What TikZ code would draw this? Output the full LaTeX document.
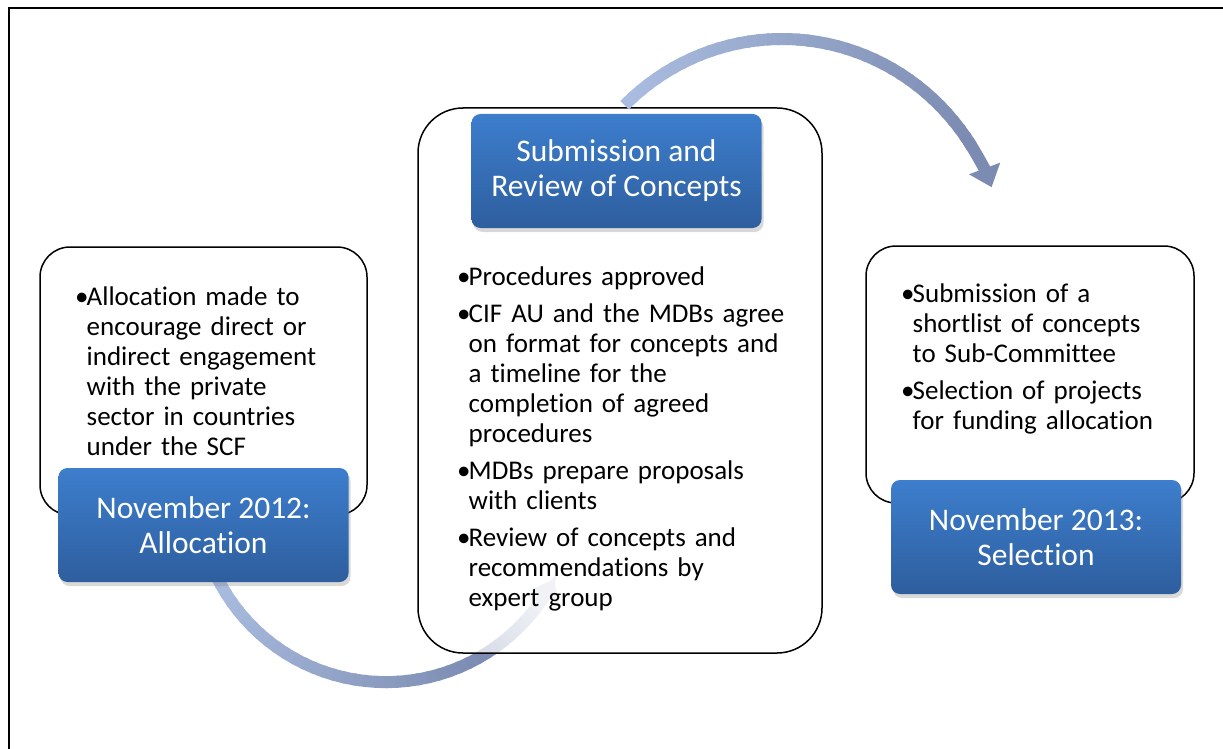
\documentclass[tikz,border=0pt]{standalone}
\usepackage{fontspec}
\setmainfont{Carlito}[Ligatures=NoCommon]
\usetikzlibrary{arrows.meta,shadows}
\definecolor{bluetop}{RGB}{61,126,205}
\definecolor{bluebot}{RGB}{46,94,158}
\definecolor{arcL}{RGB}{170,189,224}
\definecolor{arcD}{RGB}{124,139,177}
\newcommand{\bul}{\hangindent=11.5pt\hangafter=1\noindent\makebox[11.5pt][l]{\textbullet}}
\newcommand{\nextbul}{\par\vspace{7pt}\bul}
\newcommand{\nl}{\newline}
\begin{document}
\begin{tikzpicture}[x=1pt,y=-1pt,
  whitebox/.style={draw=black, line width=1.5pt, rounded corners=30pt, fill=white, inner sep=0pt},
  bluebox/.style={rounded corners=9pt, top color=bluetop, bottom color=bluebot,
    drop shadow={opacity=0.3, shadow xshift=2pt, shadow yshift=-4pt},
    minimum width=290pt, minimum height=114pt, inner sep=0pt,
    text=white, font=\fontsize{31.5}{35}\selectfont, align=center},
  bullettext/.style={font=\fontsize{27}{30}\selectfont, text width=380pt,
    anchor=base west, inner sep=0pt},
  arcseg/.style={line width=12pt}
]
\useasboundingbox (0,0) rectangle (1223,749);
\draw[line width=2pt] (1223,8) -- (9,8) -- (9,749);

% bottom arc (behind the middle box)
\coordinate (bc) at (386,493.5);
\foreach \i in {0,...,29}{
  \pgfmathsetmacro\a{155-\i*97/30}
  \pgfmathsetmacro\b{155-(\i+1.3)*97/30}
  \pgfmathsetmacro\m{100*\i/29}
  \draw[arcseg, color=arcD!\m!arcL] (bc) ++(\a:188.6) arc[start angle=\a, end angle=\b, radius=188.6];
}
\foreach \i in {0,...,9}{
  \pgfmathsetmacro\a{58-\i*22/10}
  \pgfmathsetmacro\b{58-(\i+1.3)*22/10}
  \pgfmathsetmacro\m{100-6*\i}
  \draw[arcseg, color=arcD!\m!white] (bc) ++(\a:188.6) arc[start angle=\a, end angle=\b, radius=188.6];
}
\draw[arcseg, color=arcD!40!white, -{Triangle[width=30pt,length=20pt]}] (bc) ++(37:188.6) arc[start angle=37, end angle=27, radius=188.6];

% middle box
\node[whitebox, fill opacity=0.72, rounded corners=45pt, minimum width=404pt, minimum height=545pt] (mw) at (620,380.5) {};

% top arc (elliptical)
\coordinate (tc) at (782,270);
\foreach \i in {0,...,39}{
  \pgfmathsetmacro\a{-134.5+\i*101.5/40}
  \pgfmathsetmacro\b{-134.5+(\i+1.3)*101.5/40}
  \pgfmathsetmacro\m{100*\i/39}
  \draw[arcseg, color=arcD!\m!arcL] (tc) ++(\a:224.5 and 231) arc[start angle=\a, end angle=\b, x radius=224.5, y radius=231];
}
\draw[arcseg, color=arcD, -{Triangle[width=32pt,length=20pt]}] (tc) ++(-34:224.5 and 231) arc[start angle=-34, end angle=-21, x radius=224.5, y radius=231];

% side boxes
\node[whitebox, minimum width=327pt, minimum height=268pt] (lw) at (203.5,381) {};
\node[whitebox, minimum width=328pt, minimum height=257pt] (rw) at (1030,374.5) {};

% blue boxes
\node[bluebox] (lb) at (203.5,525) {November 2012:\\Allocation};
\node[bluebox] (mb) at (616.5,171) {Submission and\\Review of Concepts};
\node[bluebox] (rb) at (1036,537) {November 2013:\\Selection};

% bullet texts
\node[bullettext] (lt) at (75,305) {\bul Allocation made to\nl encourage direct or\nl indirect engagement\nl with the private\nl sector in countries\nl under the SCF\par};
\node[bullettext] (mt) at (457,285) {\bul Procedures approved\nextbul CIF AU and the MDBs agree\nl on format for concepts and\nl a timeline for the\nl completion of agreed\nl procedures\nextbul MDBs prepare proposals\nl with clients\nextbul Review of concepts and\nl recommendations by\nl expert group\par};
\node[bullettext] (rt) at (901,302) {\bul Submission of a\nl shortlist of concepts\nl to Sub-Committee\nextbul Selection of projects\nl for funding allocation\par};
\end{tikzpicture}
\end{document}
